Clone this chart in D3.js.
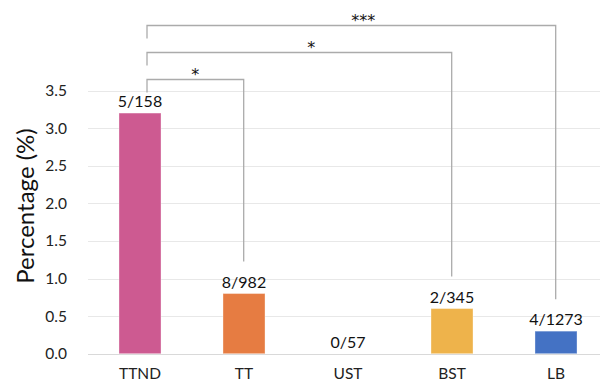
<!DOCTYPE html>
<html>
<head>
<meta charset="utf-8">
<script src="https://cdn.jsdelivr.net/npm/d3@7"></script>
<style>
  html, body { margin: 0; padding: 0; background: #fff; }
  svg { display: block; font-family: Lato, "Open Sans", sans-serif; }
</style>
</head>
<body>
<svg id="chart" width="600" height="382"></svg>
<script>
// Groups, percentages and counts (cases / total)
const categories = ["TTND", "TT", "UST", "BST", "LB"];
const percentages = [3.2, 0.8, 0, 0.6, 0.3];
const countLabels = ["5/158", "8/982", "0/57", "2/345", "4/1273"];
const barColors = ["#CD5A91", "#E67C42", "#9E9E9E", "#EEB34B", "#4472C4"];
const yTicks = [0, 0.5, 1.0, 1.5, 2.0, 2.5, 3.0, 3.5];

// Significance comparisons against TTND
const comparisons = [
  { from: "TTND", to: "TT", mark: "*" },
  { from: "TTND", to: "BST", mark: "*" },
  { from: "TTND", to: "LB", mark: "***" }
];

const svg = d3.select("#chart");
const plotLeft = 88, plotRight = 608, plotTop = 90.5, plotBottom = 353.7;

const x = d3.scaleBand()
  .domain(categories)
  .range([plotLeft, plotRight])
  .paddingInner(0.596)
  .paddingOuter(0.298);

const y = d3.scaleLinear()
  .domain([0, 3.5])
  .range([plotBottom, plotTop]);

// Horizontal gridlines
svg.append("g")
  .selectAll("line")
  .data(yTicks)
  .join("line")
  .attr("x1", plotLeft)
  .attr("x2", 600)
  .attr("y1", d => Math.round(y(d)) + 0.5)
  .attr("y2", d => Math.round(y(d)) + 0.5)
  .attr("stroke", d => d === 0 ? "#d9d9d9" : "#e8e8e8")
  .attr("stroke-width", 1);

// Y axis tick labels
const yAxis = d3.axisLeft(y).tickValues(yTicks).tickFormat(d3.format(".1f")).tickSize(0).tickPadding(0);
const yAxisG = svg.append("g")
  .attr("transform", `translate(${plotLeft - 21},0)`)
  .call(yAxis);
yAxisG.select(".domain").remove();
yAxisG.selectAll("text")
  .attr("font-family", "Lato, sans-serif")
  .attr("font-size", 15.5)
  .attr("fill", "#222");

// X axis category labels
const xAxis = d3.axisBottom(x).tickSize(0).tickPadding(0);
const xAxisG = svg.append("g")
  .attr("transform", `translate(0,${plotBottom + 14})`)
  .call(xAxis);
xAxisG.select(".domain").remove();
xAxisG.selectAll("text")
  .attr("font-family", "Lato, sans-serif")
  .attr("font-size", 15.5)
  .attr("fill", "#222");

// Y axis title
svg.append("text")
  .attr("transform", `translate(34,206) rotate(-90)`)
  .attr("text-anchor", "middle")
  .attr("font-size", 24)
  .attr("fill", "#111")
  .text("Percentage (%)");

// Bars
svg.append("g")
  .selectAll("rect")
  .data(categories)
  .join("rect")
  .attr("x", d => x(d))
  .attr("width", x.bandwidth())
  .attr("y", (d, i) => y(percentages[i]))
  .attr("height", (d, i) => y(0) - y(percentages[i]))
  .attr("fill", (d, i) => barColors[i])
  .attr("stroke", "#fff")
  .attr("stroke-opacity", 0.35)
  .attr("stroke-width", 1);

// Count labels above bars
svg.append("g")
  .selectAll("text")
  .data(categories)
  .join("text")
  .attr("x", d => x(d) + x.bandwidth() / 2)
  .attr("y", (d, i) => y(percentages[i]) - 6)
  .attr("text-anchor", "middle")
  .attr("font-size", 16)
  .attr("fill", "#111")
  .text((d, i) => countLabels[i]);

// Significance brackets
const center = c => x(c) + x.bandwidth() / 2;
const valueOf = c => percentages[categories.indexOf(c)];
const bracketBase = y(3.5) - 12;
const bracketGap = 26.6;

const br = svg.append("g");
comparisons.forEach((c, i) => {
  const top = Math.round(bracketBase - i * bracketGap) + 0.5;
  const x1 = center(c.from) + 7;
  const x2 = center(c.to) - 0.3;
  const end = y(valueOf(c.to)) - 32;
  br.append("path")
    .attr("d", `M${x1},${top + 13}V${top}H${x2}V${end}`)
    .attr("fill", "none")
    .attr("stroke", "#ababab")
    .attr("stroke-width", 1.3);
  const midShift = i === 0 ? 0 : 12;
  br.append("text")
    .attr("x", (x1 + x2) / 2 + midShift)
    .attr("y", top)
    .attr("text-anchor", "middle")
    .attr("font-family", "DejaVu Sans, sans-serif")
    .attr("font-size", 16)
    .attr("fill", "#111")
    .text(c.mark);
});
</script>
</body>
</html>
